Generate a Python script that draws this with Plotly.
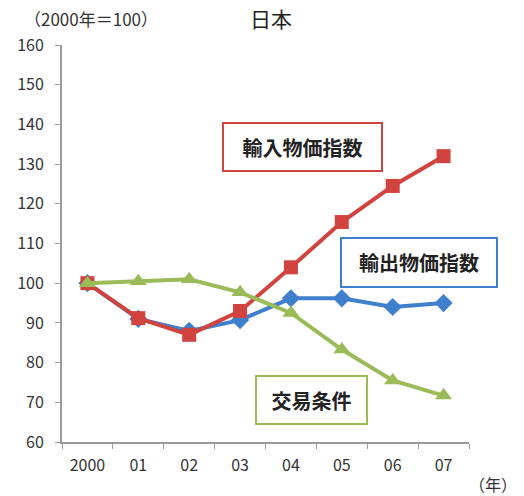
import plotly.graph_objects as go

# Years and index values (2000 = 100)
years = ["2000", "01", "02", "03", "04", "05", "06", "07"]
import_price = [100, 91.2, 87.0, 93.0, 104.0, 115.4, 124.5, 132.0]
export_price = [100, 91.0, 88.0, 90.7, 96.2, 96.2, 94.0, 95.0]
terms_of_trade = [100, 100.5, 101.0, 97.7, 92.5, 83.3, 75.5, 71.7]

RED = "#d0433f"
BLUE = "#3f7fcc"
GREEN = "#9bbb59"
FONT = "Noto Sans CJK JP"

fig = go.Figure()
fig.add_trace(go.Scatter(
    x=years, y=export_price, mode="lines+markers", name="輸出物価指数",
    line=dict(color=BLUE, width=4),
    marker=dict(symbol="diamond", size=14, color=BLUE),
))
fig.add_trace(go.Scatter(
    x=years, y=import_price, mode="lines+markers", name="輸入物価指数",
    line=dict(color=RED, width=4),
    marker=dict(symbol="square", size=14, color=RED),
))
fig.add_trace(go.Scatter(
    x=years, y=terms_of_trade, mode="lines+markers", name="交易条件",
    line=dict(color=GREEN, width=4),
    marker=dict(symbol="triangle-up", size=15, color=GREEN),
))

axis_color = "#9a9a9a"
tick_font = dict(family=FONT, size=16, color="#333333")
fig.update_layout(
    width=524, height=496,
    margin=dict(l=62, r=55, t=45, b=54),
    paper_bgcolor="white", plot_bgcolor="white",
    showlegend=False,
    font=dict(family=FONT, size=16, color="#333333"),
    xaxis=dict(
        type="category", range=[-0.5, 7.5],
        showline=True, linecolor=axis_color, linewidth=2,
        ticks="outside", ticklen=5, tickcolor=axis_color, tickson="boundaries",
        showgrid=False, zeroline=False,
        tickfont=tick_font,
        ticklabelstandoff=8,
    ),
    yaxis=dict(
        range=[60, 160], dtick=10,
        showline=True, linecolor=axis_color, linewidth=2,
        ticks="outside", ticklen=5, tickcolor=axis_color,
        showgrid=False, zeroline=False,
        tickfont=tick_font,
        ticklabelstandoff=8,
    ),
)

def label_box(text, x, y, w, h, color):
    fig.add_annotation(
        text=text, xref="paper", yref="paper", x=x, y=y,
        xanchor="center", yanchor="middle", showarrow=False,
        width=w, height=h, borderpad=2, borderwidth=2,
        bordercolor=color, bgcolor="white",
        font=dict(family=FONT, size=20, color="#222222"),
    )

label_box("<b>輸入物価指数</b>", 0.591, 0.743, 153, 42, RED)
label_box("<b>輸出物価指数</b>", 0.877, 0.452, 150, 43, BLUE)
label_box("<b>交易条件</b>", 0.613, 0.106, 105, 42, GREEN)

fig.add_annotation(
    text="日本", xref="paper", yref="paper", x=(271 - 62) / 407, y=1 + (45 - 18) / 397,
    xanchor="center", yanchor="middle", showarrow=False,
    font=dict(family=FONT, size=21, color="#222222"),
)
fig.add_annotation(
    text="（2000年＝100）", xref="paper", yref="paper", x=(22 - 62) / 407, y=1 + (45 - 19) / 397,
    xanchor="left", yanchor="middle", showarrow=False,
    font=dict(family=FONT, size=17, color="#333333"),
)
fig.add_annotation(
    text="（年）", xref="paper", yref="paper", x=(519 - 62) / 407, y=-(484 - 442) / 397,
    xanchor="right", yanchor="middle", showarrow=False,
    font=dict(family=FONT, size=16, color="#333333"),
)

fig.write_html("out.html")
